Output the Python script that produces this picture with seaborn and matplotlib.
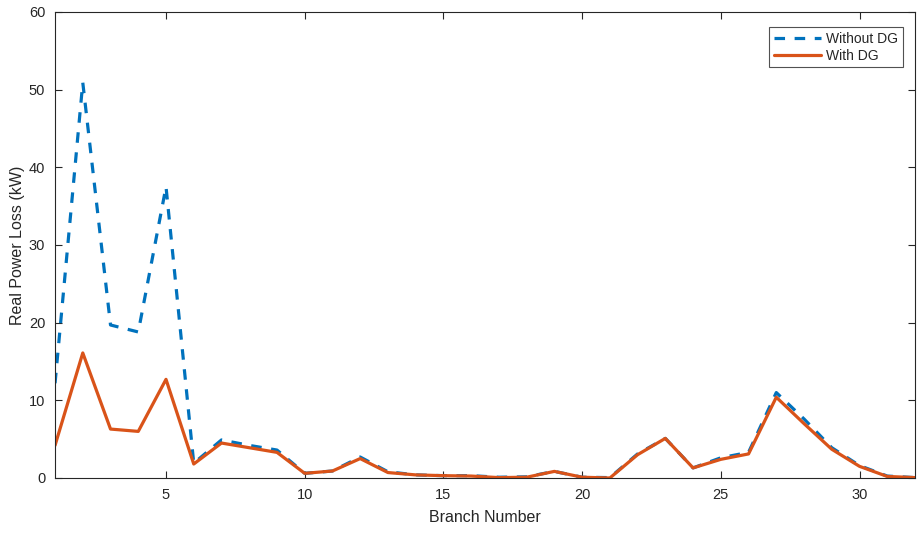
import numpy as np
import pandas as pd
import matplotlib
matplotlib.use("Agg")
import matplotlib.pyplot as plt
import seaborn as sns

branches = list(range(1, 33))
without_dg = [12.2, 50.9, 19.7, 18.8, 37.5, 1.9, 4.9, 4.2, 3.6, 0.6, 0.9, 2.7, 0.8, 0.4, 0.3, 0.3,
              0.1, 0.15, 0.85, 0.1, 0.05, 3.1, 5.1, 1.3, 2.6, 3.3, 11.0, 7.6, 3.9, 1.6, 0.25, 0.05]
with_dg = [4.2, 16.1, 6.3, 6.0, 12.7, 1.8, 4.5, 3.9, 3.3, 0.6, 0.9, 2.5, 0.7, 0.4, 0.3, 0.25,
           0.05, 0.1, 0.85, 0.1, 0.0, 3.0, 5.1, 1.3, 2.4, 3.1, 10.4, 7.0, 3.7, 1.5, 0.2, 0.05]
series_names = ["Without DG", "With DG"]
x_ticks = [5, 10, 15, 20, 25, 30]
y_ticks = [0, 10, 20, 30, 40, 50, 60]

df = pd.DataFrame({
    "Branch": branches * 2,
    "Loss": without_dg + with_dg,
    "Series": [series_names[0]] * len(branches) + [series_names[1]] * len(branches),
})

sns.set_style("white")
plt.rcParams["font.family"] = ["Liberation Sans", "DejaVu Sans"]

fig = plt.figure(figsize=(9.22, 5.33), dpi=100)
ax = fig.add_axes([0.0597, 0.1032, 0.9327, 0.8743])

palette = {"Without DG": "#0072BD", "With DG": "#D95319"}
sns.lineplot(data=df, x="Branch", y="Loss", hue="Series", style="Series",
             dashes={"Without DG": (3.3, 3.0), "With DG": ""},
             palette=palette, linewidth=2.3, ax=ax, legend=True)

ax.set_xlim(1, 32)
ax.set_ylim(0, 60)
ax.set_xticks(x_ticks)
ax.set_yticks(y_ticks)
ax.set_xlabel("Branch Number", fontsize=11.5, color="#262626", labelpad=6)
ax.set_ylabel("Real Power Loss (kW)", fontsize=11.5, color="#262626", labelpad=3)
ax.tick_params(direction="in", length=5, width=0.8, colors="#262626", labelsize=10.5,
               top=True, right=True, bottom=True, left=True)
ax.tick_params(axis="x", pad=7)
ax.tick_params(axis="y", pad=7)
for s in ax.spines.values():
    s.set_color("#262626")
    s.set_linewidth(0.8)
    s.set_visible(True)

leg = ax.legend(loc="upper right", bbox_to_anchor=(0.9855, 0.968), fontsize=10,
                frameon=True, fancybox=False, edgecolor="#262626", handlelength=3.4,
                borderpad=0.35, labelspacing=0.2, handletextpad=0.3, borderaxespad=0.0)
leg.get_frame().set_linewidth(0.8)

fig.savefig("out.png", dpi=100)
